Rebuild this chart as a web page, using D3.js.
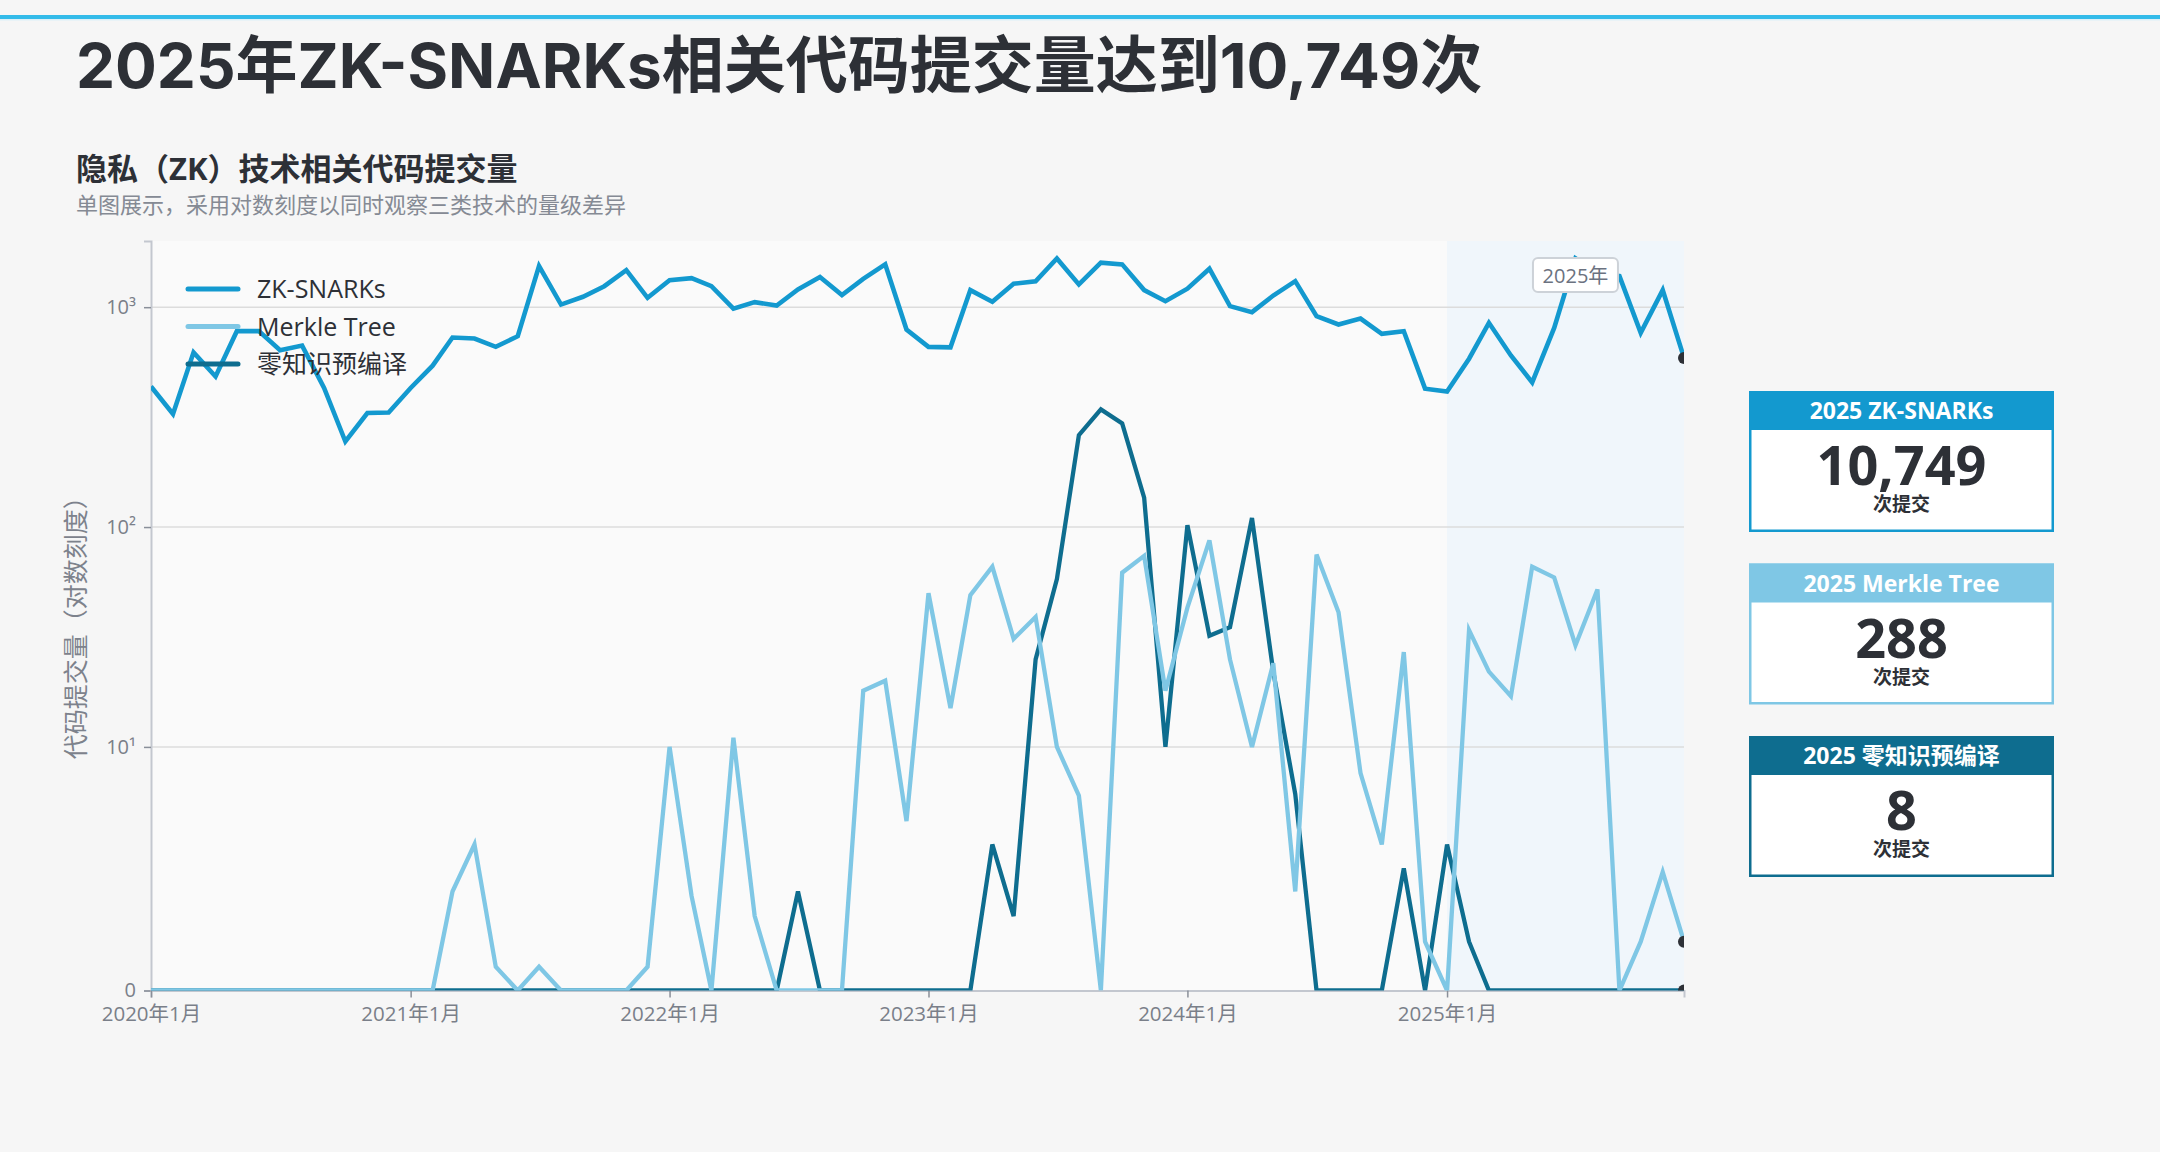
<!DOCTYPE html>
<html>
<head>
<meta charset="utf-8">
<script src="https://cdn.jsdelivr.net/npm/d3@7"></script>
<style>
  body { margin: 0; background: #f6f6f6; }
  svg text { font-family: "Open Sans", "Noto Sans CJK SC", "Noto Sans", sans-serif; }
</style>
</head>
<body>
<div id="chart"></div>
<script>
//monthly data, Jan 2020 .. Dec 2025
const monthLabels = [
  "2020-01","2020-02","2020-03","2020-04","2020-05","2020-06","2020-07","2020-08","2020-09","2020-10","2020-11","2020-12",
  "2021-01","2021-02","2021-03","2021-04","2021-05","2021-06","2021-07","2021-08","2021-09","2021-10","2021-11","2021-12",
  "2022-01","2022-02","2022-03","2022-04","2022-05","2022-06","2022-07","2022-08","2022-09","2022-10","2022-11","2022-12",
  "2023-01","2023-02","2023-03","2023-04","2023-05","2023-06","2023-07","2023-08","2023-09","2023-10","2023-11","2023-12",
  "2024-01","2024-02","2024-03","2024-04","2024-05","2024-06","2024-07","2024-08","2024-09","2024-10","2024-11","2024-12",
  "2025-01","2025-02","2025-03","2025-04","2025-05","2025-06","2025-07","2025-08","2025-09","2025-10","2025-11","2025-12"
];
const zkSnarks = [
  436, 327, 623, 484, 778, 778, 637, 669, 429, 245, 330, 332,
  429, 542, 728, 720, 660, 738, 1538, 1028, 1115, 1246, 1475, 1103,
  1327, 1356, 1246, 984, 1054, 1018, 1205, 1371, 1135, 1346, 1566, 791,
  660, 657, 1196, 1059, 1279, 1310, 1667, 1270, 1593, 1566, 1196, 1065,
  1213, 1496, 1011, 949, 1130, 1314, 910, 834, 888, 756, 778, 426,
  413, 583, 849, 603, 455, 805, 1670, 1440, 1384, 764, 1196, 588
];
const merkleTree = [
  0, 0, 0, 0, 0, 0, 0, 0, 0, 0, 0, 0,
  0, 0, 2.2, 3.6, 1, 0, 1, 0, 0, 0, 0, 1,
  10, 2.1, 0, 11, 1.7, 0, 0, 0, 0, 18, 20, 4.6,
  50, 15, 49, 66, 31, 39, 10, 6, 0, 62, 74, 18,
  43, 87, 25, 10, 24, 2.2, 75, 41, 7.6, 3.6, 27, 1.3,
  0, 34, 22, 17, 66, 59, 29, 52, 0, 1.3, 2.7, 1.3
];
const zkPrecompile = [
  0, 0, 0, 0, 0, 0, 0, 0, 0, 0, 0, 0,
  0, 0, 0, 0, 0, 0, 0, 0, 0, 0, 0, 0,
  0, 0, 0, 0, 0, 0, 2.2, 0, 0, 0, 0, 0,
  0, 0, 0, 3.6, 1.7, 25, 58, 262, 343, 296, 136, 10,
  102, 32, 35, 110, 22, 6.1, 0, 0, 0, 0, 2.8, 0,
  3.6, 1.3, 0, 0, 0, 0, 0, 0, 0, 0, 0, 0
];
const seriesNames = ["ZK-SNARKs", "Merkle Tree", "零知识预编译"];
const seriesColors = ["#1399cf", "#7fc7e5", "#0e6d8f"];
const yTickValues = [0.78, 10, 100, 1000]; //0 sits on the bottom of the log axis
const yTickLabels = ["0", "10¹", "10²", "10³"];
const xTickMonths = ["2020-01", "2021-01", "2022-01", "2023-01", "2024-01", "2025-01"];
const cardTitles = ["2025 ZK-SNARKs", "2025 Merkle Tree", "2025 零知识预编译"];
const cardValues = [10749, 288, 8];

const W = 2160, H = 1152;
const margin = { top: 241, left: 151 },
    width = 1533,
    height = 749.5;
const textDark = "#2d3036", textGray = "#6b7280";

const svg = d3.select("#chart")
    .append("svg")
    .attr("width", W)
    .attr("height", H)
    .style("display", "block");

svg.append("rect").attr("width", W).attr("height", H).attr("fill", "#f6f6f6");

//top accent bar
svg.append("rect").attr("x", 0).attr("y", 15).attr("width", W).attr("height", 4).attr("fill", "#33bbe9");
svg.append("rect").attr("x", 0).attr("y", 19).attr("width", W).attr("height", 1.5).attr("fill", "#dcf0f8");

//titles
svg.append("text")
    .attr("x", 76).attr("y", 88)
    .attr("font-size", 62).attr("font-weight", 700).attr("fill", textDark)
    .style("font-family", "Inter, 'Noto Sans CJK SC', sans-serif")
    .text("2025年ZK-SNARKs相关代码提交量达到10,749次");
svg.append("text")
    .attr("x", 76).attr("y", 180)
    .attr("font-size", 31).attr("font-weight", 700).attr("fill", textDark)
    .text("隐私（ZK）技术相关代码提交量");
svg.append("text")
    .attr("x", 76).attr("y", 213)
    .attr("font-size", 22).attr("fill", "#858a94")
    .text("单图展示，采用对数刻度以同时观察三类技术的量级差异");

const parseMonth = d3.timeParse("%Y-%m");
const dates = monthLabels.map(parseMonth);

const x = d3.scaleTime()
    .domain([dates[0], dates[dates.length - 1]])
    .range([0, width]);
const yMin = yTickValues[0];
const y = d3.scaleLog()
    .domain([yMin, 2000])
    .range([height, 0]);

const g = svg.append("g").attr("transform", `translate(${margin.left},${margin.top})`);

//plot background
g.append("rect").attr("width", width).attr("height", height).attr("fill", "#fafafa");

//2025 highlight band
const band2025 = parseMonth("2025-01");
g.append("rect")
    .attr("x", x(band2025)).attr("y", 0)
    .attr("width", width - x(band2025)).attr("height", height)
    .attr("fill", "#f0f6fb");

//grid lines
g.append("g")
    .selectAll("line")
    .data(yTickValues.slice(1))
    .enter().append("line")
    .attr("x1", 0).attr("x2", width)
    .attr("y1", d => y(d)).attr("y2", d => y(d))
    .attr("stroke", "#dcdcdc").attr("stroke-width", 1.5);

//axes
const yAxis = g.append("g")
    .call(d3.axisLeft(y).tickValues(yTickValues).tickSize(7).tickPadding(8)
        .tickFormat((d, i) => yTickLabels[i]));
yAxis.select(".domain").attr("stroke", "#c3c7cf").attr("stroke-width", 2);
yAxis.selectAll(".tick line").attr("stroke", "#8a8f99").attr("stroke-width", 1.5);
yAxis.selectAll("text").attr("font-size", 20).attr("fill", "#7a7f89")
    .style("font-family", "'Open Sans', 'Noto Sans', sans-serif");

const xAxis = g.append("g")
    .attr("transform", `translate(0,${height})`)
    .call(d3.axisBottom(x).tickValues(xTickMonths.map(parseMonth)).tickSize(7).tickPadding(9)
        .tickFormat(d3.timeFormat("%Y年%-m月")));
xAxis.select(".domain").attr("stroke", "#c3c7cf").attr("stroke-width", 2);
xAxis.selectAll(".tick line").attr("stroke", "#8a8f99").attr("stroke-width", 1.5);
xAxis.selectAll("text").attr("font-size", 20.5).attr("fill", "#7a7f89");

//y axis title
g.append("text")
    .attr("transform", `translate(${-66},${height / 2 + 6}) rotate(-90)`)
    .attr("text-anchor", "middle")
    .attr("font-size", 25).attr("fill", "#7d828c")
    .text("代码提交量（对数刻度）");

//lines, clipped to the plot
svg.append("clipPath").attr("id", "plotClip")
    .append("rect").attr("width", width).attr("height", height);
const plot = g.append("g").attr("clip-path", "url(#plotClip)");

const seriesData = [zkSnarks, merkleTree, zkPrecompile];
const line = d3.line()
    .x((d, i) => x(dates[i]))
    .y(d => y(Math.max(d, yMin)));

//draw order: dark precompile under, then merkle, then snarks
[2, 1, 0].forEach(k => {
    plot.append("path")
        .datum(seriesData[k])
        .attr("fill", "none")
        .attr("stroke", seriesColors[k])
        .attr("stroke-width", k === 0 ? 4.6 : 4.3)
        .attr("d", line);
});

//end markers
plot.selectAll("circle.end")
    .data(seriesData)
    .enter().append("circle")
    .attr("class", "end")
    .attr("cx", x(dates[dates.length - 1]))
    .attr("cy", d => y(Math.max(d[d.length - 1], yMin)))
    .attr("r", 6)
    .attr("fill", textDark);

//2025 label
const labelX = x(parseMonth("2025-07"));
const label = g.append("g").attr("transform", `translate(${labelX},${17})`);
label.append("rect")
    .attr("x", -42.5).attr("y", 0).attr("width", 85).attr("height", 34)
    .attr("rx", 5).attr("fill", "#ffffff")
    .attr("stroke", "#cdd2d8").attr("stroke-width", 2);
label.append("text")
    .attr("x", 0).attr("y", 24.5)
    .attr("text-anchor", "middle")
    .attr("font-size", 20).attr("fill", textGray)
    .text("2025年");

//legend
const legend = g.append("g").attr("transform", "translate(37,48)");
seriesNames.forEach((name, i) => {
    const row = legend.append("g").attr("transform", `translate(0,${i * 37.5})`);
    row.append("line")
        .attr("x1", 0).attr("x2", 50).attr("y1", 0).attr("y2", 0)
        .attr("stroke", seriesColors[i]).attr("stroke-width", 5)
        .attr("stroke-linecap", "round");
    row.append("text")
        .attr("x", 69).attr("y", 9)
        .attr("font-size", 25).attr("fill", textDark)
        .text(name);
});

//summary cards
const cardX = 1749, cardW = 305, cardH = 141, headH = 39;
const cardY = [391, 563.5, 736];
cardTitles.forEach((title, i) => {
    const c = svg.append("g").attr("transform", `translate(${cardX},${cardY[i]})`);
    c.append("rect")
        .attr("x", 1.25).attr("y", 1.25)
        .attr("width", cardW - 2.5).attr("height", cardH - 2.5)
        .attr("fill", "#ffffff")
        .attr("stroke", seriesColors[i]).attr("stroke-width", 2.5);
    c.append("rect")
        .attr("width", cardW).attr("height", headH)
        .attr("fill", seriesColors[i]);
    c.append("text")
        .attr("x", cardW / 2).attr("y", 28)
        .attr("text-anchor", "middle")
        .attr("font-size", 23).attr("font-weight", 700).attr("fill", "#ffffff")
        .text(title);
    c.append("text")
        .attr("x", cardW / 2).attr("y", 94)
        .attr("text-anchor", "middle")
        .attr("font-size", 54).attr("font-weight", 700).attr("fill", textDark)
        .text(d3.format(",")(cardValues[i]));
    c.append("text")
        .attr("x", cardW / 2).attr("y", 120)
        .attr("text-anchor", "middle")
        .attr("font-size", 19).attr("font-weight", 700).attr("fill", textDark)
        .text("次提交");
});
</script>
</body>
</html>
